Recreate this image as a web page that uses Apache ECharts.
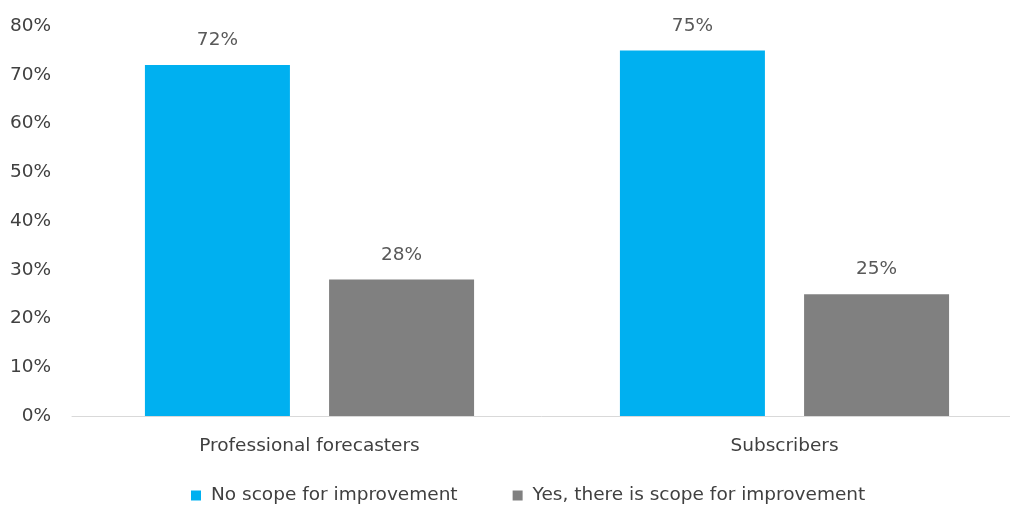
<!DOCTYPE html>
<html><head><meta charset="utf-8">
<script src="https://cdn.jsdelivr.net/npm/echarts@6/dist/echarts.min.js"></script>
<style>html,body{margin:0;padding:0;background:#fff}#c{width:1010px;height:507px}</style>
</head><body><div id="c"></div>
<script>
const categories = ['Professional forecasters', 'Subscribers'];
const seriesNames = ['No scope for improvement', 'Yes, there is scope for improvement'];
const noScope = [72, 75];
const yesScope = [28, 25];
const yTicks = [0, 10, 20, 30, 40, 50, 60, 70, 80];

const FONT = 'DejaVu Sans';
const FS = 18.5;
const chart = echarts.init(document.getElementById('c'));
chart.setOption({
  animation: false,
  textStyle: { fontFamily: FONT },
  grid: { left: 72, top: 26, right: -12, bottom: 91, containLabel: false, outerBoundsMode: 'none' },
  legend: {
    bottom: -3, left: 186, itemWidth: 10, itemHeight: 10, itemGap: 55,
    icon: 'rect',
    textStyle: { fontFamily: FONT, fontSize: FS, color: '#404040', padding: [0, 0, 0, 5] },
    data: seriesNames
  },
  xAxis: {
    type: 'category', data: categories,
    axisLine: { lineStyle: { color: '#d9d9d9', width: 1 } },
    axisTick: { show: false },
    axisLabel: { fontFamily: FONT, fontSize: FS, color: '#404040', margin: 21 }
  },
  yAxis: {
    type: 'value', min: yTicks[0], max: yTicks[yTicks.length - 1], interval: 10,
    axisLine: { show: false }, axisTick: { show: false },
    splitLine: { show: false },
    axisLabel: { fontFamily: FONT, fontSize: FS, color: '#404040', margin: 21, formatter: '{value}%' }
  },
  series: [
    { name: seriesNames[0], type: 'bar', data: noScope, barWidth: 145, barGap: '27%',
      itemStyle: { color: '#00B0F0' },
      label: { show: true, position: 'top', distance: 15, formatter: '{c}%', fontFamily: FONT, fontSize: FS, color: '#595959' } },
    { name: seriesNames[1], type: 'bar', data: yesScope, barWidth: 145,
      itemStyle: { color: '#808080' },
      label: { show: true, position: 'top', distance: 15, formatter: '{c}%', fontFamily: FONT, fontSize: FS, color: '#595959' } }
  ]
});
</script></body></html>
